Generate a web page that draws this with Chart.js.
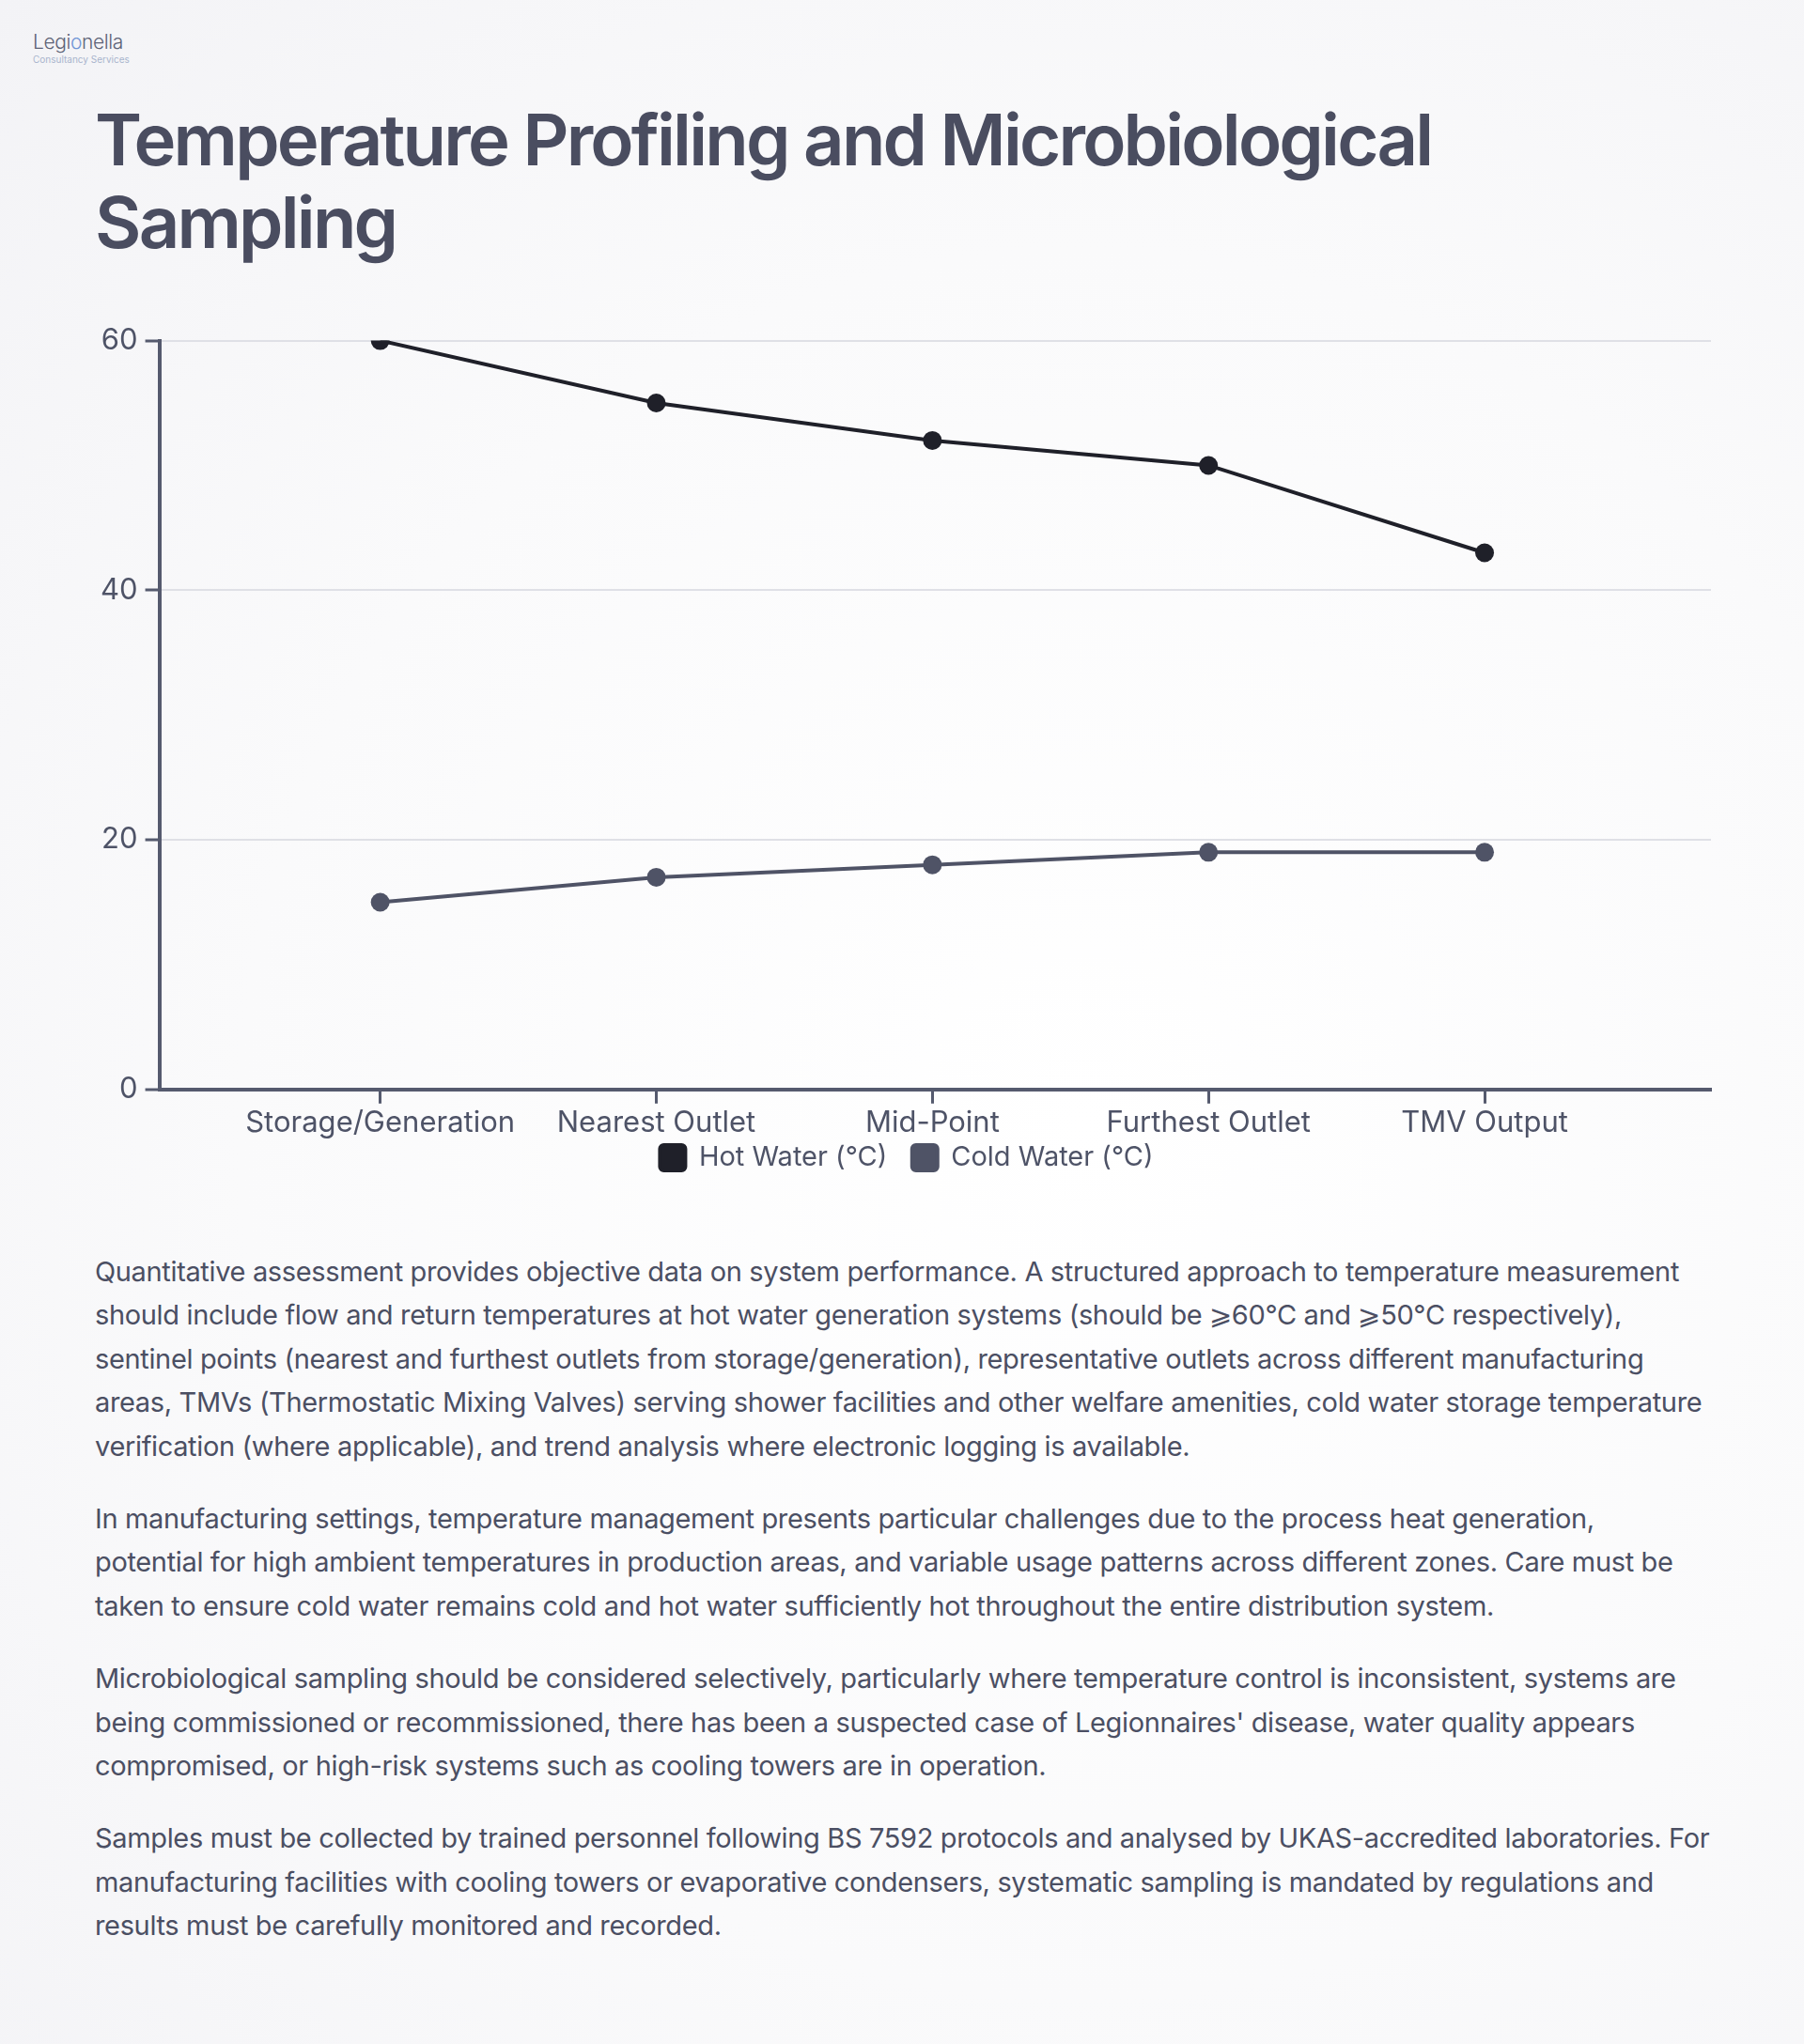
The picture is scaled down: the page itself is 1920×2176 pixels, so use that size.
<!DOCTYPE html>
<html>
<head>
<meta charset="utf-8">
<script src="https://cdn.jsdelivr.net/npm/chart.js@4"></script>
<style>
  html, body { margin: 0; padding: 0; }
  body {
    width: 1920px; height: 2176px; overflow: hidden;
    font-family: Inter, "Noto Sans", sans-serif;
    color: #4b4f63;
    background: radial-gradient(ellipse at 60% 55%, #ffffff 0%, #fafafb 55%, #f3f3f6 100%);
    position: relative;
  }
  .logo { position: absolute; left: 35px; top: 33px; }
  .logo .name { font-size: 21px; font-weight: 300; color: #5d6276; letter-spacing: -0.4px; line-height: 24px; }
  .logo .name span { color: #6f95d6; }
  .logo .sub { font-size: 10px; color: #a9b5cd; line-height: 12px; }
  h1 {
    position: absolute; left: 101px; top: 104px; width: 1718px; margin: 0;
    font-size: 76px; line-height: 88px; font-weight: 600; letter-spacing: -2.8px; color: #4a4d60;
  }
  .chart { position: absolute; left: 99px; top: 336px; width: 1732px; height: 921px; }
  .text { position: absolute; left: 101px; top: 1331px; width: 1780px; }
  .text p { margin: 0 0 31px 0; font-size: 29px; line-height: 46.4px; letter-spacing: -0.35px; color: #4b4f63; white-space: nowrap; }
</style>
</head>
<body>
<div class="logo"><div class="name">Legi<span>o</span>nella</div><div class="sub">Consultancy Services</div></div>
<h1>Temperature Profiling and Microbiological Sampling</h1>
<div class="chart"><canvas id="tempChart"></canvas></div>
<div class="text">
<p>Quantitative assessment provides objective data on system performance. A structured approach to temperature measurement<br>should include flow and return temperatures at hot water generation systems (should be ⩾60°C and ⩾50°C respectively),<br>sentinel points (nearest and furthest outlets from storage/generation), representative outlets across different manufacturing<br>areas, TMVs (Thermostatic Mixing Valves) serving shower facilities and other welfare amenities, cold water storage temperature<br>verification (where applicable), and trend analysis where electronic logging is available.</p>
<p>In manufacturing settings, temperature management presents particular challenges due to the process heat generation,<br>potential for high ambient temperatures in production areas, and variable usage patterns across different zones. Care must be<br>taken to ensure cold water remains cold and hot water sufficiently hot throughout the entire distribution system.</p>
<p>Microbiological sampling should be considered selectively, particularly where temperature control is inconsistent, systems are<br>being commissioned or recommissioned, there has been a suspected case of Legionnaires' disease, water quality appears<br>compromised, or high-risk systems such as cooling towers are in operation.</p>
<p>Samples must be collected by trained personnel following BS 7592 protocols and analysed by UKAS-accredited laboratories. For<br>manufacturing facilities with cooling towers or evaporative condensers, systematic sampling is mandated by regulations and<br>results must be carefully monitored and recorded.</p>
</div>
<script>
const locations = ['Storage/Generation', 'Nearest Outlet', 'Mid-Point', 'Furthest Outlet', 'TMV Output'];
const hotWater = [60, 55, 52, 50, 43];
const coldWater = [15, 17, 18, 19, 19];
const yTicks = [0, 20, 40, 60];

document.addEventListener('DOMContentLoaded', () => {
    const axisColor = '#555a6e';
    const labelColor = '#4e5367';
    const ctx = document.getElementById('tempChart').getContext('2d');
    new Chart(ctx, {
        type: 'line',
        data: {
            labels: locations,
            datasets: [{
                label: 'Hot Water (°C)',
                data: hotWater,
                borderColor: '#1f2029',
                backgroundColor: '#1f2029',
                borderWidth: 4,
                pointRadius: 10,
                pointBorderWidth: 0,
                tension: 0
            }, {
                label: 'Cold Water (°C)',
                data: coldWater,
                borderColor: '#4f5366',
                backgroundColor: '#4f5366',
                borderWidth: 4,
                pointRadius: 10,
                pointBorderWidth: 0,
                tension: 0
            }]
        },
        options: {
            responsive: true,
            maintainAspectRatio: false,
            animation: false,
            plugins: {
                tooltip: { enabled: false },
                legend: {
                    position: 'bottom',
                    labels: {
                        color: labelColor,
                        font: { family: 'Inter', size: 29 },
                        boxWidth: 27,
                        boxHeight: 27,
                        useBorderRadius: true,
                        borderRadius: 4,
                        padding: 2,
                        // a little extra room between the two entries
                        generateLabels: chart => {
                            const items = Chart.defaults.plugins.legend.labels.generateLabels(chart);
                            items.forEach((item, i) => {
                                if (i < items.length - 1) item.text += '   ';
                            });
                            return items;
                        }
                    }
                }
            },
            scales: {
                x: {
                    afterBuildTicks: scale => {
                        // keep a wide margin around the first and last category
                        scale._startValue = -0.8;
                        scale._valueRange = 5.62;
                    },
                    border: { color: axisColor, width: 4 },
                    grid: { drawOnChartArea: false, drawTicks: true, tickColor: axisColor, tickWidth: 3, tickLength: 15 },
                    ticks: { color: labelColor, font: { family: 'Inter', size: 31 }, padding: 2, maxRotation: 0 }
                },
                y: {
                    min: 0,
                    max: 60,
                    afterBuildTicks: scale => { scale.ticks = yTicks.map(v => ({ value: v })); },
                    border: { color: axisColor, width: 4 },
                    grid: { color: '#dfe0e6', lineWidth: 2, tickColor: axisColor, tickWidth: 3, tickLength: 15 },
                    ticks: { color: labelColor, font: { family: 'Inter', size: 31 }, padding: 8 }
                }
            }
        }
    });
});
</script>
</body>
</html>
